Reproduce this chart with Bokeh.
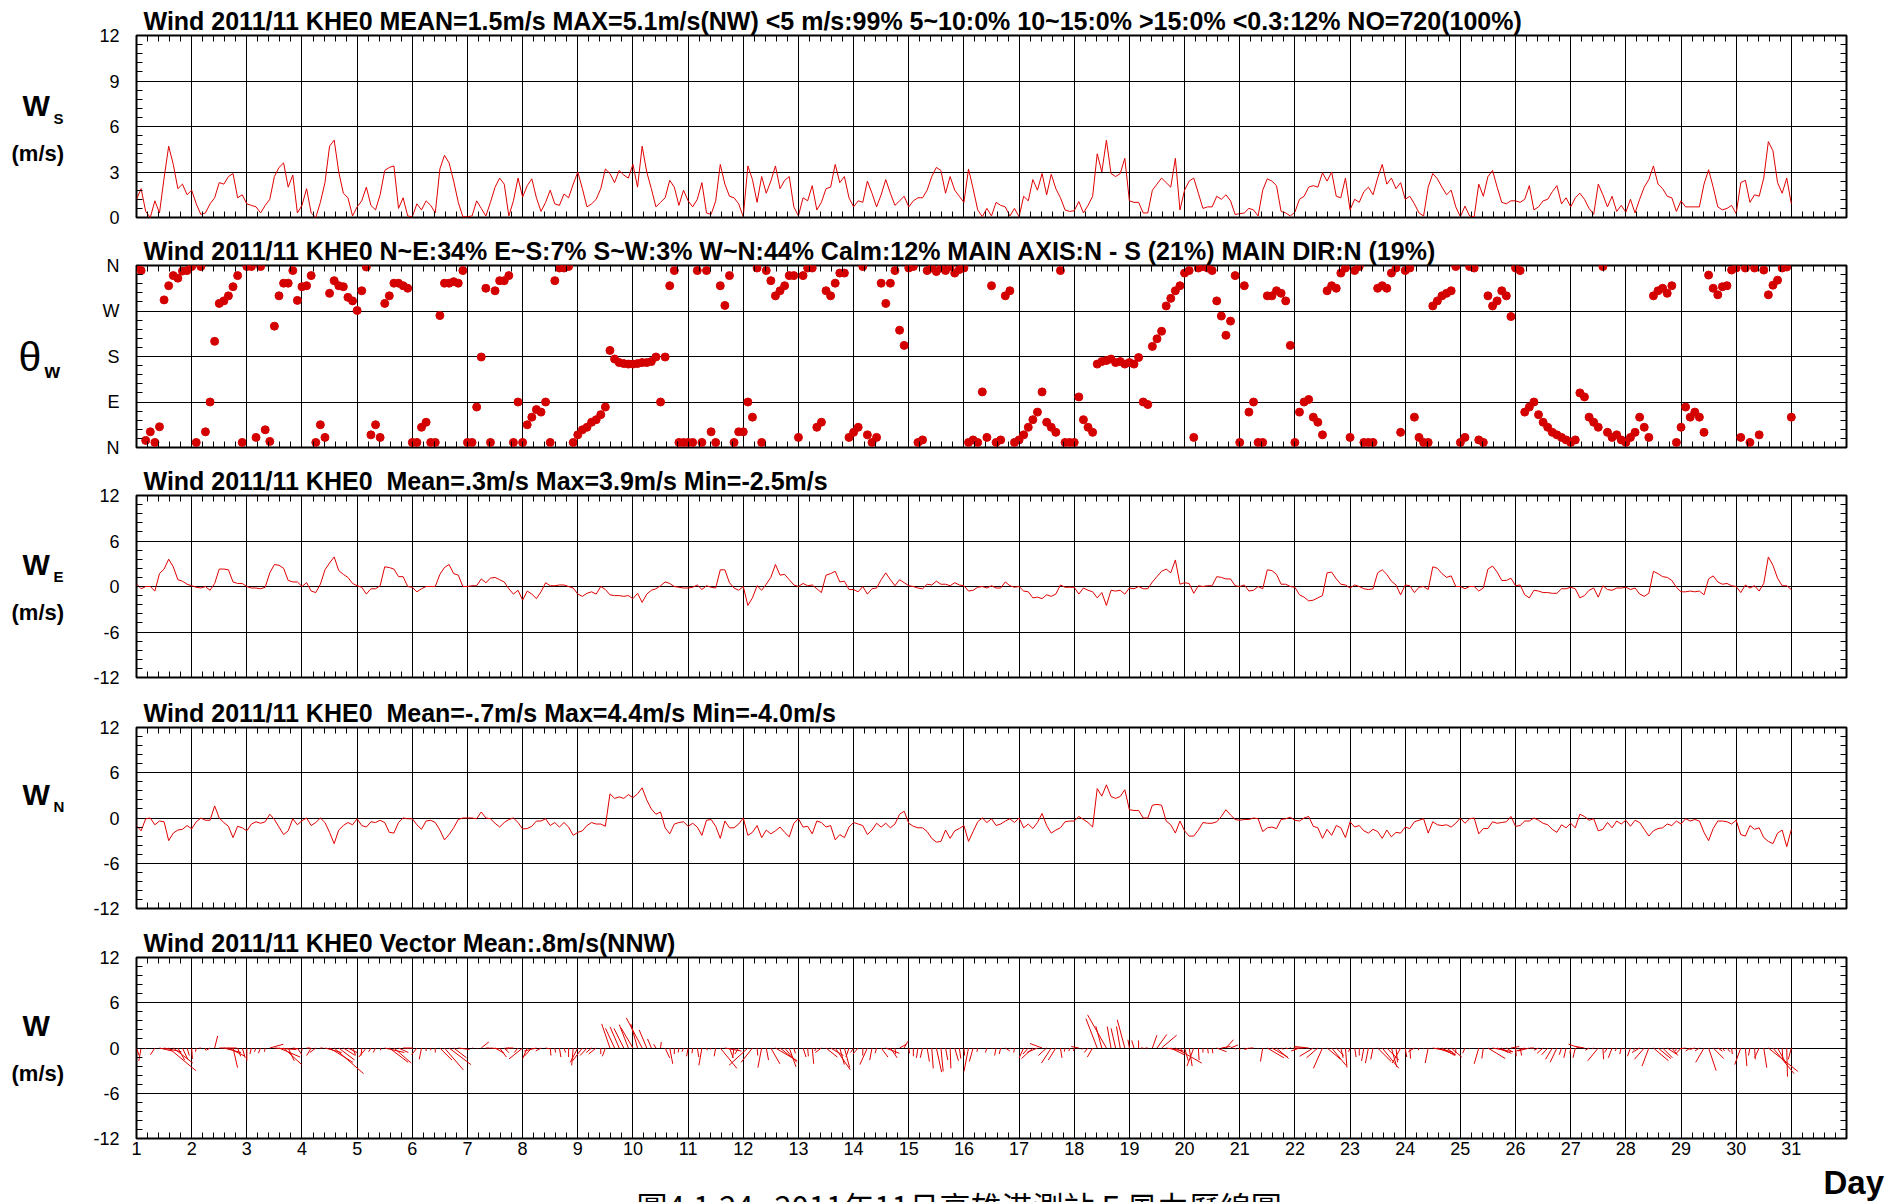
import numpy as np
from bokeh.plotting import figure
from bokeh.layouts import column, row
from bokeh.models import Range1d, LinearAxis, FixedTicker, ColumnDataSource
from bokeh.embed import file_html
from bokeh.resources import INLINE
from bokeh.core.properties import value

# ---------------- data (2-hourly samples, day 1.0 -> 31.0) ----------------
ws = [
 1.2,1.9,0.4,0.0,1.1,0.3,2.6,4.7,3.5,1.9,2.2,1.5,
 1.8,0.9,0.2,0.3,0.9,1.3,2.3,2.2,2.7,2.9,1.3,1.5,
 0.9,0.8,0.7,0.3,0.8,1.2,2.7,3.3,3.6,2.0,2.8,0.3,
 0.8,1.9,0.3,0.0,1.0,2.3,4.7,5.1,3.0,1.6,1.3,0.1,
 0.7,1.1,2.0,0.8,0.5,1.5,3.1,3.3,3.4,0.6,1.3,0.1,
 0.05,0.9,0.5,1.1,0.8,0.3,3.2,4.1,3.6,2.4,1.0,0.05,
 0.05,0.1,1.1,0.6,0.1,1.0,2.0,2.6,2.2,0.1,1.1,2.6,
 1.35,2.1,2.55,1.3,0.4,1.0,1.8,0.9,0.8,1.55,1.3,2.2,
 3.0,1.9,0.7,0.9,1.2,1.9,3.2,2.9,2.3,3.1,2.8,2.6,
 3.5,2.0,4.7,3.0,1.9,0.7,1.0,1.3,2.45,2.0,0.8,1.8,
 1.1,0.7,1.2,2.3,0.3,0.2,1.1,3.5,2.2,1.4,1.3,0.9,
 0.05,3.4,2.5,1.0,2.7,1.6,2.4,3.4,1.9,2.45,2.7,0.7,
 0.1,1.3,1.1,2.1,0.5,1.0,1.9,2.0,3.5,2.3,2.7,1.3,
 0.7,1.1,1.0,2.4,1.6,0.7,1.5,2.5,1.6,0.8,1.1,1.4,
 0.7,1.1,1.3,1.3,1.8,2.7,3.3,3.1,1.6,2.7,1.8,1.4,
 1.0,3.2,1.9,0.5,0.05,0.6,0.1,1.0,0.8,0.7,0.1,0.6,
 0.05,1.4,1.1,2.5,1.8,2.9,1.5,2.85,1.9,1.3,0.5,0.4,
 0.45,1.05,0.3,0.8,1.4,4.2,3.0,5.1,2.9,2.7,2.9,3.9,
 1.1,1.0,1.0,0.3,0.3,1.8,2.2,2.6,2.3,2.0,3.9,0.5,
 1.8,2.4,2.6,1.6,0.6,0.7,0.7,1.4,1.2,1.5,1.1,0.2,
 0.25,0.3,0.6,0.5,0.1,1.8,2.55,2.4,2.1,0.4,0.3,0.1,
 0.35,1.2,1.4,2.0,2.1,2.0,2.95,2.4,3.0,1.4,1.3,2.6,
 0.5,1.2,1.0,1.7,2.0,1.5,2.6,3.5,2.2,2.6,1.9,2.3,
 1.2,1.4,0.9,0.3,0.1,2.0,2.9,2.55,2.0,1.5,1.8,0.7,
 0.05,0.75,0.1,0.05,2.2,1.4,2.7,3.1,2.0,1.0,0.9,1.1,
 1.1,1.0,1.2,2.1,0.5,0.7,1.1,1.2,1.7,2.1,0.9,1.3,
 0.7,1.3,1.6,1.2,0.6,0.2,2.2,1.5,0.7,1.4,0.4,0.8,
 0.35,1.2,0.3,1.2,2.0,2.5,3.4,2.2,1.9,1.4,1.3,0.4,
 1.1,0.7,0.7,0.7,0.7,2.2,3.15,2.0,0.7,0.5,0.6,0.8,
 0.25,2.3,2.45,1.0,1.5,1.4,2.6,5.0,4.4,2.3,1.6,2.6,
 0.9]

wdir = [
 355,350,14,31,10,41,292,320,340,335,349,350,
 358,10,358,31,90,210,285,290,300,318,340,10,
 358,358,20,358,35,12,240,300,325,325,350,291,
 318,320,340,10,45,20,305,330,320,318,297,290,
 271,310,357,25,45,20,285,300,325,325,320,315,
 10,10,40,50,10,10,261,325,325,328,325,350,
 10,10,80,179,315,10,310,330,330,340,10,90,
 10,45,60,75,70,90,10,330,355,355,358,10,
 25,35,40,50,55,65,80,192,175,168,166,165,
 165,166,168,168,170,179,90,179,320,350,10,10,
 10,10,350,10,350,31,10,320,281,340,10,31,
 31,90,60,355,10,350,330,300,310,320,340,340,
 20,340,355,355,40,50,310,300,325,345,345,20,
 30,40,358,25,10,20,325,285,325,350,232,202,
 355,358,10,15,350,355,348,355,350,358,345,352,
 355,10,15,10,110,20,320,10,15,300,310,10,
 15,25,40,55,70,110,50,40,30,350,10,10,
 10,100,55,40,30,165,170,172,175,168,170,165,
 168,165,178,90,85,200,215,230,280,295,310,320,
 345,350,20,355,358,355,350,290,260,222,250,340,
 10,320,70,90,10,10,300,300,310,305,290,202,
 10,70,90,95,60,50,25,310,320,315,345,355,
 20,350,358,10,10,10,315,320,315,345,355,30,
 350,355,60,20,10,10,280,290,300,305,310,358,
 10,20,358,355,15,10,300,280,290,310,300,259,
 355,350,70,80,90,65,50,40,30,25,20,15,
 10,15,108,100,60,50,40,358,30,20,25,15,
 10,20,30,60,40,20,300,310,315,305,320,10,
 40,80,60,70,60,30,341,315,302,318,320,351,
 355,20,355,10,355,25,351,302,321,331,355,357,
 60]

we = [
 0.35,-0.3,0.0,0.0,-0.6,1.7,2.3,3.6,2.6,0.9,0.7,0.3,
 0.1,-0.1,-0.2,0.0,-0.5,0.4,2.3,2.3,2.2,0.6,0.4,0.4,
 0.0,-0.2,-0.2,-0.3,-0.1,1.8,2.9,2.8,2.4,0.8,0.6,0.6,
 0.0,0.5,-0.6,-0.8,0.3,2.2,3.1,3.9,2.1,1.6,1.2,0.4,
 0.1,-0.1,-1.0,-0.3,-0.3,0.1,2.6,2.5,2.3,1.3,1.3,0.0,
 -0.1,-0.7,-0.3,0.0,0.0,0.0,1.6,2.5,2.9,1.7,1.5,0.0,
 0.0,0.1,0.1,1.0,0.5,1.1,1.2,0.9,0.6,-0.3,-1.0,-0.5,
 -1.8,-0.6,-1.0,-1.6,-0.7,0.5,0.1,0.1,0.2,0.2,0.0,-0.2,
 -1.0,-1.3,-0.9,-0.7,-1.0,0.0,-0.4,-1.1,-1.2,-1.2,-1.3,-1.2,
 -1.6,-0.9,-2.1,-1.0,-0.5,-0.3,0.1,0.6,0.4,0.0,-0.1,-0.2,
 -0.2,-0.1,0.2,-0.4,0.1,-0.1,-0.2,2.2,2.2,0.5,-0.2,-0.5,
 0.0,-2.5,-1.5,0.1,-0.5,0.3,1.2,2.9,1.5,1.6,0.9,0.2,
 0.0,0.4,0.1,0.2,-0.3,-0.8,1.5,1.7,2.0,0.6,0.7,-0.4,
 -0.4,-0.7,0.0,-1.0,-0.3,-0.2,0.9,1.8,0.9,0.1,0.9,0.5,
 0.1,0.0,-0.2,-0.3,0.3,0.2,0.7,0.3,0.3,0.1,0.5,0.2,
 0.1,-0.6,-0.5,-0.1,0.0,-0.2,0.1,-0.2,-0.2,0.6,0.1,-0.1,
 0.0,-0.6,-0.7,-1.5,-1.4,-1.6,-1.1,-1.3,-1.0,0.2,-0.1,-0.1,
 -0.1,-1.0,-0.2,-0.5,-0.7,-1.5,-0.8,-2.5,-0.5,-0.6,-0.5,-1.0,
 -0.2,-0.3,0.0,-0.3,-0.3,0.6,1.3,2.0,2.3,1.8,3.5,0.3,
 0.5,0.4,-0.9,0.1,0.0,0.1,0.1,1.3,1.2,1.0,1.0,0.1,
 0.0,0.2,-0.6,-0.5,0.0,-0.3,2.2,2.1,1.6,0.3,0.3,0.0,
 -0.1,-1.1,-1.4,-1.9,-1.8,-1.5,-1.2,1.8,1.9,1.0,0.3,0.2,
 -0.2,0.2,0.0,-0.3,-0.4,-0.3,1.8,2.2,1.6,0.7,0.2,-1.1,
 0.2,0.1,-0.8,-0.1,0.0,-0.4,2.6,2.4,1.7,1.2,1.4,0.0,
 0.0,-0.3,0.0,0.0,-0.6,-0.2,2.3,2.7,1.9,0.8,0.8,1.1,
 0.1,0.2,-1.1,-1.5,-0.5,-0.6,-0.8,-0.8,-0.9,-0.9,-0.3,-0.3,
 -0.1,-0.3,-1.5,-1.2,-0.5,-0.2,-1.4,0.1,-0.4,-0.5,-0.2,-0.2,
 -0.1,-0.4,-0.2,-1.0,-1.3,-0.9,2.0,1.7,1.3,1.2,0.8,-0.1,
 -0.7,-0.7,-0.6,-0.7,-0.6,-1.1,1.0,1.4,0.6,0.3,0.4,0.1,
 0.0,-0.8,0.2,-0.2,0.1,-0.6,0.4,3.9,2.8,1.1,0.1,0.1,
 -0.4]

wn = [
 -1.0,-1.7,-0.1,0.0,-0.9,-0.4,-0.5,-3.0,-2.0,-1.6,-1.5,-1.0,
 -1.45,-0.5,0.0,-0.3,-0.3,1.6,0.0,-0.6,-1.1,-2.6,-1.1,-1.3,
 -1.7,-0.8,-0.5,-0.7,-0.5,0.5,-0.2,-1.2,-2.2,-1.7,-0.1,-0.9,
 -0.35,0.0,-1.0,-0.6,0.0,-0.6,-1.9,-3.4,-1.6,-1.0,-0.6,-0.9,
 -0.1,-1.0,-1.2,-0.5,-0.6,-0.3,-0.6,-1.9,-2.0,-0.6,0.0,-0.1,
 -0.1,-0.9,-1.5,-0.4,-0.3,-0.6,-1.6,-2.9,-2.2,-1.3,-0.2,0.0,
 0.0,0.0,-0.1,0.8,0.0,-0.1,-0.7,-1.2,-0.6,-0.2,0.0,-0.6,
 -1.45,-1.4,-1.1,-0.4,-0.4,-0.1,-1.0,-0.6,-1.2,-0.6,-1.2,-2.3,
 -1.9,-1.7,-1.0,-0.6,-0.8,-0.8,-1.1,3.2,2.6,2.8,2.6,3.1,
 2.7,3.2,4.0,2.4,1.2,0.5,0.8,-1.3,-2.1,-0.8,-0.6,-0.5,
 -1.1,-0.7,-1.2,-2.3,-0.3,-0.2,-1.1,-2.7,-0.4,-1.3,-1.3,-0.8,
 0.0,-2.3,-1.9,-1.0,-2.6,-1.6,-2.1,-1.7,-1.2,-1.9,-2.5,-0.7,
 -0.1,-1.2,-1.1,-2.1,-0.4,-0.6,-1.2,-1.0,-2.9,-2.2,-2.6,-1.2,
 -0.6,-0.8,-1.0,-2.2,-1.6,-0.7,-1.2,-0.7,-1.3,-0.8,0.5,0.9,
 -0.7,-1.1,-1.3,-1.3,-1.8,-2.7,-3.2,-3.1,-1.6,-2.7,-1.7,-1.4,
 -1.0,-3.1,-1.8,-0.5,0.0,-0.6,-0.1,-1.0,-0.8,-0.4,-0.1,-0.6,
 0.0,-1.3,-0.8,-1.4,-0.6,0.6,-1.0,-2.0,-1.6,-1.3,-0.5,-0.4,
 -0.4,0.2,-0.2,-0.6,-1.2,3.9,2.9,4.4,2.85,2.6,2.85,3.75,
 1.1,1.0,1.0,0.0,0.0,1.7,1.8,1.7,-0.4,-0.9,-2.0,-0.4,
 -1.7,-2.4,-2.4,-1.6,-0.6,-0.7,-0.7,-0.5,0.2,1.1,0.4,-0.2,
 -0.3,-0.2,-0.2,0.0,-0.1,-1.8,-1.3,-1.2,-1.4,-0.2,-0.1,0.1,
 -0.3,-0.4,0.0,0.2,-1.1,-1.3,-2.7,-1.5,-2.3,-1.0,-1.3,-2.6,
 -0.5,-1.2,-1.0,-1.7,-2.0,-1.5,-1.8,-2.7,-1.6,-2.5,-1.9,-2.0,
 -1.2,-1.4,-0.5,-0.3,-0.1,-2.0,-0.5,-0.9,-1.0,-0.9,-1.2,-0.7,
 0.0,-0.7,-0.1,0.0,-2.1,-1.4,-1.4,-0.5,-0.7,-0.6,-0.5,0.2,
 -1.1,-1.0,-0.4,-0.4,0.0,-0.3,-0.7,-0.9,-1.5,-1.9,-0.9,-1.3,
 -0.7,-1.3,0.5,0.2,-0.3,-0.1,-1.7,-1.5,-0.6,-1.3,-0.4,-0.8,
 -0.3,-1.1,-0.3,-0.6,-1.5,-2.4,-1.7,-1.4,-1.3,-0.8,-1.0,-0.4,
 -0.8,-0.1,-0.4,-0.2,-0.4,-1.9,-3.0,-1.4,-0.4,-0.4,-0.5,-0.8,
 -0.3,-2.2,-2.4,-1.0,-1.5,-1.3,-2.6,-3.1,-3.4,-2.0,-1.6,-3.8,
 -1.5]

day_ticks = list(range(1, 32))
dir_labels = {0: "N", 90: "E", 180: "S", 270: "W", 360: "N"}
uv_labels = {-12: "-12", -6: "-6", 0: "0", 6: "6", 12: "12"}
ws_labels = {0: "0", 3: "3", 6: "6", 9: "9", 12: "12"}
NB = "\u00a0"
titles = [
 "Wind 2011/11 KHE0 MEAN=1.5m/s MAX=5.1m/s(NW) <5 m/s:99% 5~10:0% 10~15:0% >15:0% <0.3:12% NO=720(100%)",
 "Wind 2011/11 KHE0 N~E:34% E~S:7% S~W:3% W~N:44% Calm:12% MAIN AXIS:N - S (21%) MAIN DIR:N (19%)",
 "Wind 2011/11 KHE0 " + NB + "Mean=.3m/s Max=3.9m/s Min=-2.5m/s",
 "Wind 2011/11 KHE0 " + NB + "Mean=-.7m/s Max=4.4m/s Min=-4.0m/s",
 "Wind 2011/11 KHE0 Vector Mean:.8m/s(NNW)",
]
caption = "圖4.1.24" + NB * 3 + "2011年11月高雄港測站" + NB + "E" + NB + "風力歷線圖"

# ---------------- styling / layout ----------------
FONT = "Liberation Sans"
RED = "#e00000"
DOT = "#d40000"
PAGE_W = 1893
LABW = 70                      # width of the left text strip
LEFT, RIGHT = 136, 47          # frame edges on the page
heights = [230, 231, 231, 230, 243]
tops = [35, 35, 34, 35, 35]
frames = [182, 182, 182, 181, 181]
minor_x = [round(1 + i * 0.2, 3) for i in range(0, 156)]


def t_of(arr):
    return 1 + np.arange(len(arr)) / 12.0


def make_fig(i, yr, yticks, ystep, xlabels=False, overrides=None):
    h, top, fh = heights[i], tops[i], frames[i]
    bottom = h - top - fh
    p = figure(width=PAGE_W - LABW, height=h, output_backend="svg", toolbar_location=None,
               x_range=Range1d(1, 32), y_range=Range1d(*yr), title=titles[i],
               min_border_left=LEFT - LABW, min_border_right=RIGHT,
               min_border_top=top, min_border_bottom=bottom)
    p.title.text_font = FONT
    p.title.text_font_size = "25px"
    p.title.text_font_style = "bold"
    p.title.text_color = "black"
    p.title.align = "left"
    p.title.offset = 7
    p.title.standoff = 2
    p.outline_line_color = "black"
    p.outline_line_width = 2
    p.outline_line_alpha = 1
    p.border_fill_color = "white"
    p.background_fill_color = "white"
    yminor = [float(v) for v in np.round(np.arange(yr[0], yr[1] + 1e-9, ystep), 4)]

    bx = p.below[0]
    bx.ticker = FixedTicker(ticks=day_ticks if xlabels else [], minor_ticks=minor_x)
    by = p.left[0]
    by.ticker = FixedTicker(ticks=yticks, minor_ticks=yminor)
    for ax in (bx, by):
        ax.axis_line_color = None
        ax.major_tick_in = 0
        ax.major_tick_out = 0
        ax.minor_tick_in = 6
        ax.minor_tick_out = 0
        ax.minor_tick_line_color = "black"
        ax.minor_tick_line_width = 1
        ax.major_label_text_font = FONT
        ax.major_label_text_font_size = "18px"
        ax.major_label_text_color = "black"
    bx.major_label_standoff = 3
    by.major_label_standoff = 17
    by.major_label_overrides = overrides

    ax_top = LinearAxis(ticker=FixedTicker(ticks=[], minor_ticks=minor_x))
    ax_right = LinearAxis(ticker=FixedTicker(ticks=[], minor_ticks=yminor))
    for ax in (ax_top, ax_right):
        ax.axis_line_color = None
        ax.major_tick_in = 0
        ax.major_tick_out = 0
        ax.minor_tick_in = 6
        ax.minor_tick_out = 0
        ax.minor_tick_line_color = "black"
    p.add_layout(ax_top, "above")
    p.add_layout(ax_right, "right")

    p.xgrid.ticker = FixedTicker(ticks=list(range(1, 33)))
    p.ygrid.ticker = FixedTicker(ticks=yticks)
    for g in (p.xgrid, p.ygrid):
        g.grid_line_color = "black"
        g.grid_line_width = 1
        g.grid_line_alpha = 1
    return p


# Panel 1: speed
p1 = make_fig(0, (0, 12), [0, 3, 6, 9, 12], 0.6, overrides=ws_labels)
p1.line(t_of(ws), ws, line_color=RED, line_width=1)

# Panel 2: direction
p2 = make_fig(1, (0, 360), [0, 90, 180, 270, 360], 18, overrides=dir_labels)
p2.scatter(t_of(wdir), wdir, size=8, fill_color=DOT, line_color=DOT)

# Panel 3: east component
p3 = make_fig(2, (-12, 12), [-12, -6, 0, 6, 12], 1.2, overrides=uv_labels)
p3.line(t_of(we), we, line_color=RED, line_width=1)

# Panel 4: north component
p4 = make_fig(3, (-12, 12), [-12, -6, 0, 6, 12], 1.2, overrides=uv_labels)
p4.line(t_of(wn), wn, line_color=RED, line_width=1)

# Panel 5: vector sticks (x component drawn at the same pixel scale as y)
p5 = make_fig(4, (-12, 12), [-12, -6, 0, 6, 12], 1.2, xlabels=True, overrides=uv_labels)
k = (181.0 / 24.0) / (1710.0 / 31.0)
tv = t_of(we)
src = ColumnDataSource(dict(x0=tv, y0=np.zeros(len(we)), x1=tv + k * np.array(we), y1=np.array(wn)))
p5.segment(x0="x0", y0="y0", x1="x1", y1="y1", source=src, line_color=RED, line_width=1)


def strip(w, h):
    f = figure(width=w, height=h, output_backend="svg", toolbar_location=None, title=None,
               x_range=Range1d(0, w), y_range=Range1d(h, 0),
               x_axis_location=None, y_axis_location=None, min_border=0)
    f.outline_line_color = None
    f.grid.visible = False
    return f


def txt(fig, x, y, s, size, bold=True, font=FONT, baseline="alphabetic"):
    fig.text(x=[x], y=[y], text=[s], text_font=value(font), text_font_size=value(size),
             text_font_style=value("bold" if bold else "normal"), text_color="black",
             text_baseline=value(baseline), text_align=value("left"))


# ---------------- left text strip (page coordinates, y = visual centre) ----------------
lab = strip(LABW, sum(heights))
for w_c, sub_c, sub, ms_c in [(105, 118, "S", 153), (564, 576, "E", 612),
                              (794, 806, "N", None), (1025, None, None, 1073)]:
    txt(lab, 22, w_c, "W", "29px")
    if sub:
        txt(lab, 53, sub_c, sub, "15px")
    if ms_c:
        txt(lab, 11, ms_c, "(m/s)", "22px")
txt(lab, 18, 356, "θ", "41px", bold=False)
txt(lab, 44, 370, "w", "20px")

# ---------------- bottom strip: axis title and (cut) caption ----------------
BOT = 1202 - sum(heights)
bot = strip(PAGE_W, BOT)
txt(bot, 1823, 17, "Day", "33px")
txt(bot, 636, 17, caption, "31px", bold=False, font="Noto Sans CJK TC", baseline="top")

layout = column(row(lab, column(p1, p2, p3, p4, p5, spacing=0), spacing=0), bot, spacing=0)
open("out.html", "w").write(file_html(layout, INLINE))
